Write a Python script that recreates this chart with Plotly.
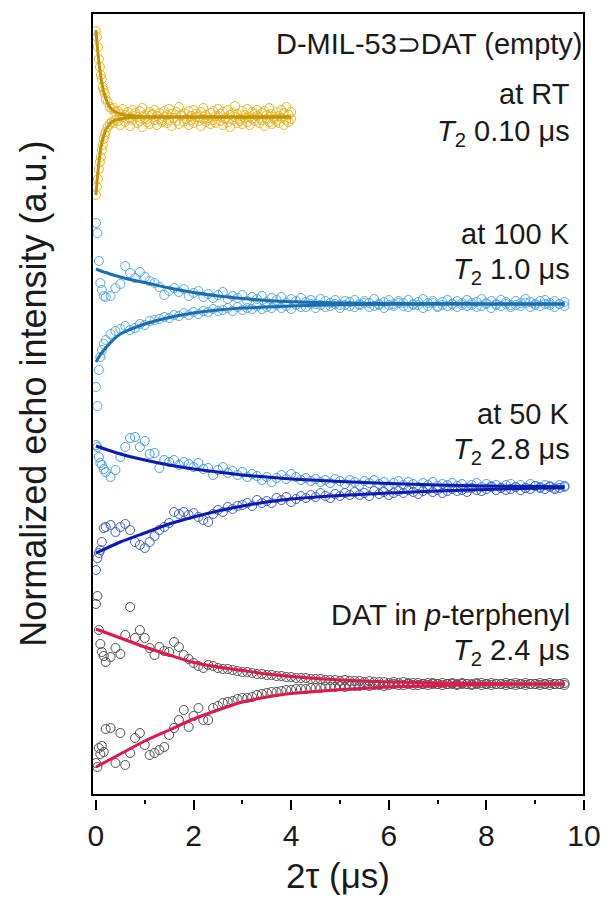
import plotly.graph_objects as go

# ---------------- data (2tau in us; signal in a.u. relative to each baseline) ----------------
x_rt = [0, 0.02, 0.04, 0.06, 0.08, 0.1, 0.12, 0.14, 0.16, 0.18, 0.2, 0.24, 0.28, 0.32, 0.36, 0.4,
        0.45, 0.5, 0.55, 0.6, 0.65, 0.7, 0.75, 0.8, 0.85, 0.9, 0.95, 1.0, 1.05, 1.1, 1.15, 1.2, 1.25, 1.3, 1.35, 1.4,
        1.45, 1.5, 1.55, 1.6, 1.65, 1.7, 1.75, 1.8, 1.85, 1.9, 1.95, 2.0, 2.05, 2.1, 2.15, 2.2, 2.25, 2.3, 2.35, 2.4,
        2.45, 2.5, 2.55, 2.6, 2.65, 2.7, 2.75, 2.8, 2.85, 2.9, 2.95, 3.0, 3.05, 3.1, 3.15, 3.2, 3.25, 3.3, 3.35, 3.4,
        3.45, 3.5, 3.55, 3.6, 3.65, 3.7, 3.75, 3.8, 3.85, 3.9, 3.95, 4.0]
rt_up = [0.86, 0.80, 0.70, 0.58, 0.50, 0.42, 0.38, 0.30, 0.27, 0.24, 0.18, 0.15, 0.10, 0.08, 0.09, 0.05,
         0.06, 0.03, 0.08, 0.02, 0.05, -0.01, 0.07, 0.04, 0.00, 0.06, 0.09, 0.02, -0.02, 0.05, 0.03, 0.07, 0.01, 0.04, -0.03, 0.06,
         0.02, 0.08, 0.03, -0.01, 0.05, 0.10, 0.02, 0.04, -0.02, 0.06, 0.01, 0.07, 0.03, 0.00, 0.05, 0.09, 0.02, -0.03, 0.04, 0.06,
         0.01, 0.08, 0.03, 0.05, -0.01, 0.07, 0.02, 0.04, 0.11, 0.03, -0.02, 0.06, 0.02, 0.08, 0.00, 0.05, 0.03, 0.07, -0.01, 0.04,
         0.06, 0.02, 0.09, 0.03, -0.02, 0.05, 0.01, 0.07, 0.04, 0.10, 0.02, 0.05]
rt_lo = [-0.78, -0.70, -0.62, -0.52, -0.45, -0.40, -0.33, -0.28, -0.22, -0.18, -0.15, -0.10, -0.07, -0.05, -0.06, -0.03,
         -0.04, -0.08, 0.00, -0.05, -0.02, -0.09, -0.03, 0.01, -0.06, -0.04, -0.10, -0.01, -0.05, -0.07, 0.02, -0.03, -0.08, -0.02, -0.05, 0.00,
         -0.06, -0.03, -0.09, -0.01, -0.04, -0.07, 0.01, -0.05, -0.02, -0.08, -0.03, -0.06, 0.00, -0.04, -0.09, -0.02, -0.05, -0.01, -0.07, -0.03,
         -0.06, 0.01, -0.04, -0.08, -0.02, -0.05, -0.10, -0.03, 0.00, -0.06, -0.04, -0.07, -0.01, -0.05, -0.08, -0.02, -0.04, 0.01, -0.06, -0.03,
         -0.09, -0.02, -0.05, -0.07, 0.00, -0.04, -0.06, -0.01, -0.08, -0.03, -0.05, -0.02]

x_grid = [0, 0.03, 0.06, 0.09, 0.12, 0.16, 0.2,
          0.3, 0.4, 0.5, 0.6, 0.7, 0.8, 0.9, 1.0, 1.1, 1.2,
          1.3, 1.4, 1.5, 1.6, 1.7, 1.8, 1.9, 2.0, 2.1, 2.2,
          2.3, 2.4, 2.5, 2.6, 2.7, 2.8, 2.9, 3.0, 3.1, 3.2,
          3.3, 3.4, 3.5, 3.6, 3.7, 3.8, 3.9, 4.0, 4.1, 4.2,
          4.3, 4.4, 4.5, 4.6, 4.7, 4.8, 4.9, 5.0, 5.1, 5.2,
          5.3, 5.4, 5.5, 5.6, 5.7, 5.8, 5.9, 6.0, 6.1, 6.2,
          6.3, 6.4, 6.5, 6.6, 6.7, 6.8, 6.9, 7.0, 7.1, 7.2,
          7.3, 7.4, 7.5, 7.6, 7.7, 7.8, 7.9, 8.0, 8.1, 8.2,
          8.3, 8.4, 8.5, 8.6, 8.7, 8.8, 8.9, 9.0, 9.1, 9.2,
          9.3, 9.4, 9.5, 9.6]

k100_up = [0.81, 0.71, 0.43, 0.21, 0.14, 0.08, 0.07,
           0.08, 0.16, 0.20, 0.38, 0.31, 0.26, 0.32, 0.27, 0.23, 0.21,
           0.17, 0.09, 0.13, 0.16, 0.12, 0.15, 0.08, 0.11, 0.13, 0.07,
           0.10, 0.06, 0.09, 0.12, 0.05, 0.08, 0.06, 0.09, 0.03, 0.07,
           0.05, 0.08, 0.02, 0.06, 0.04, 0.07, 0.01, 0.05, 0.03, 0.06,
           0.02, 0.04, 0.00, 0.05, 0.03, 0.01, 0.04, -0.01, 0.03, 0.02,
           0.04, 0.00, 0.03, 0.01, 0.05, -0.01, 0.02, 0.04, 0.00, 0.03,
           0.01, 0.04, -0.01, 0.02, 0.05, 0.01, 0.03, -0.02, 0.02, 0.04,
           0.00, 0.03, 0.01, 0.04, -0.01, 0.02, 0.05, 0.01, 0.03, 0.00,
           0.04, 0.02, -0.01, 0.03, 0.01, 0.05, 0.02, 0.00, 0.03, 0.04,
           0.01, 0.03, 0.00, 0.02]
k100_lo = [-0.83, -1.02, -0.66, -0.53, -0.46, -0.40, -0.36,
           -0.30, -0.27, -0.25, -0.22, -0.26, -0.24, -0.20, -0.21, -0.17, -0.16,
           -0.15, -0.13, -0.14, -0.11, -0.12, -0.09, -0.11, -0.08, -0.10, -0.07,
           -0.08, -0.05, -0.07, -0.06, -0.04, -0.07, -0.03, -0.06, -0.04, -0.05,
           -0.02, -0.05, -0.03, -0.04, -0.01, -0.04, -0.02, -0.05, -0.01, -0.03,
           -0.03, 0.00, -0.04, -0.01, -0.03, -0.02, 0.00, -0.04, -0.01, -0.02,
           -0.03, -0.01, 0.01, -0.03, -0.02, 0.00, -0.04, -0.01, -0.02, 0.01,
           -0.02, -0.03, 0.00, -0.01, -0.04, -0.02, 0.01, -0.03, -0.01, -0.02,
           0.00, -0.03, -0.01, -0.02, 0.01, -0.03, -0.02, 0.00, -0.04, -0.01,
           -0.02, 0.00, -0.03, -0.01, -0.02, 0.01, -0.03, -0.01, -0.02, 0.00,
           -0.01, -0.03, 0.00, -0.02]

k50_up = [0.42, 0.40, 0.30, 0.24, 0.22, 0.18, 0.15,
          0.10, 0.17, 0.30, 0.40, 0.49, 0.50, 0.40, 0.46, 0.33, 0.34,
          0.19, 0.27, 0.25, 0.27, 0.22, 0.25, 0.23, 0.20, 0.24, 0.18,
          0.19, 0.12, 0.17, 0.20, 0.14, 0.16, 0.12, 0.15, 0.10, 0.13,
          0.11, 0.07, 0.10, 0.05, 0.09, 0.12, 0.08, 0.13, 0.10, 0.07,
          0.09, 0.06, 0.08, 0.05, 0.07, 0.04, 0.08, 0.06, 0.03, 0.07,
          0.05, 0.02, 0.06, 0.04, 0.07, 0.03, 0.05, 0.01, 0.04, 0.06,
          0.02, 0.05, 0.03, 0.00, 0.04, 0.02, 0.05, 0.01, 0.03, 0.02,
          0.04, 0.01, 0.03, -0.01, 0.02, 0.04, 0.00, 0.03, 0.01, 0.02,
          -0.01, 0.02, 0.03, 0.00, 0.02, -0.01, 0.03, 0.01, 0.00, 0.02,
          0.01, -0.01, 0.02, 0.00]
k50_lo = [-0.83, -0.71, -0.66, -0.63, -0.55, -0.41, -0.40,
          -0.38, -0.45, -0.40, -0.37, -0.43, -0.55, -0.58, -0.61, -0.55, -0.49,
          -0.43, -0.40, -0.36, -0.25, -0.27, -0.25, -0.28, -0.26, -0.30, -0.33,
          -0.35, -0.27, -0.23, -0.25, -0.20, -0.22, -0.19, -0.18, -0.16, -0.19,
          -0.13, -0.16, -0.14, -0.16, -0.11, -0.13, -0.10, -0.15, -0.12, -0.09,
          -0.11, -0.08, -0.10, -0.06, -0.09, -0.11, -0.07, -0.09, -0.06, -0.08,
          -0.05, -0.08, -0.06, -0.09, -0.04, -0.07, -0.05, -0.08, -0.06, -0.04,
          -0.06, -0.03, -0.05, -0.07, -0.04, -0.02, -0.05, -0.03, -0.06, -0.04,
          -0.02, -0.04, -0.03, -0.05, -0.01, -0.03, -0.04, -0.02, 0.00, -0.03,
          -0.01, -0.03, -0.02, 0.00, -0.03, -0.01, -0.02, 0.01, -0.01, -0.02,
          0.00, -0.02, -0.01, 0.01]

pt_up = [0.80, 0.88, 0.54, 0.40, 0.32, 0.28, 0.22,
         0.27, 0.36, 0.30, 0.49, 0.77, 0.46, 0.54, 0.46, 0.36, 0.29,
         0.37, 0.33, 0.32, 0.42, 0.37, 0.29, 0.25, 0.21, 0.18, 0.16,
         0.19, 0.18, 0.16, 0.15, 0.15, 0.14, 0.13, 0.12, 0.12, 0.11,
         0.10, 0.10, 0.09, 0.09, 0.08, 0.08, 0.07, 0.07, 0.06, 0.06,
         0.06, 0.05, 0.05, 0.05, 0.04, 0.04, 0.04, 0.03, 0.04, 0.03,
         0.03, 0.03, 0.02, 0.03, 0.02, 0.02, 0.02, 0.01, 0.02, 0.01,
         0.02, 0.01, 0.01, 0.01, 0.00, 0.01, 0.01, 0.00, 0.01, 0.00,
         0.01, 0.00, 0.01, 0.00, 0.00, 0.01, -0.01, 0.00, 0.01, 0.00,
         0.00, 0.01, 0.00, -0.01, 0.00, 0.01, 0.00, 0.00, -0.01, 0.00,
         0.01, 0.00, 0.00, -0.01]
pt_lo = [-0.79, -0.83, -0.64, -0.70, -0.62, -0.68, -0.45,
         -0.44, -0.79, -0.49, -0.81, -0.69, -0.54, -0.49, -0.61, -0.71, -0.69,
         -0.66, -0.63, -0.51, -0.44, -0.36, -0.26, -0.43, -0.32, -0.24, -0.36,
         -0.36, -0.24, -0.22, -0.19, -0.18, -0.17, -0.15, -0.14, -0.14, -0.13,
         -0.11, -0.10, -0.09, -0.08, -0.08, -0.07, -0.06, -0.06, -0.05, -0.05,
         -0.05, -0.04, -0.04, -0.04, -0.03, -0.03, -0.03, -0.02, -0.03, -0.02,
         -0.02, -0.02, -0.01, -0.02, -0.01, -0.01, -0.02, -0.01, 0.00, -0.01,
         -0.01, 0.00, -0.01, -0.01, 0.00, -0.01, 0.00, 0.00, -0.01, 0.00,
         0.00, -0.01, 0.00, 0.00, -0.01, 0.00, 0.01, 0.00, -0.01, 0.00,
         0.00, -0.01, 0.00, 0.01, 0.00, -0.01, 0.00, 0.00, 0.01, 0.00,
         -0.01, 0.00, 0.00, 0.01]

# fitted decays
fit_rt_x = [0, 0.02, 0.04, 0.06, 0.08, 0.1, 0.12, 0.15, 0.2, 0.25, 0.3, 0.4, 0.5, 0.6, 0.8, 1.0, 1.5, 2.0, 3.0, 4.0]
fit_rt_up = [0.87, 0.75, 0.64, 0.55, 0.47, 0.40, 0.34, 0.27, 0.19, 0.13, 0.09, 0.05, 0.03, 0.02, 0.01, 0.0, 0.0, 0.0, 0.0, 0.0]
fit_rt_lo = [-0.78, -0.66, -0.55, -0.46, -0.38, -0.31, -0.26, -0.20, -0.13, -0.09, -0.06, -0.03, -0.02, -0.01, -0.005, 0.0, 0.0, 0.0, 0.0, 0.0]

fit_100_x = [0, 0.1, 0.2, 0.35, 0.5, 0.75, 1.0, 1.5, 2.0, 2.5, 3.0, 3.5, 4.0, 5.0, 6.0, 7.0, 8.0, 9.6]
fit_100_up = [0.35, 0.33, 0.315, 0.29, 0.27, 0.24, 0.215, 0.16, 0.115, 0.08, 0.055, 0.035, 0.022, 0.01, 0.005, 0.002, 0.001, 0.0]
fit_100_lo = [-0.58, -0.50, -0.44, -0.36, -0.30, -0.245, -0.20, -0.135, -0.09, -0.06, -0.04, -0.03, -0.02, -0.008, -0.003, -0.001, 0.0, 0.0]

fit_50_x = [0, 0.5, 1.0, 1.5, 2.0, 2.5, 3.0, 3.5, 4.0, 5.0, 6.0, 7.0, 8.0, 9.0, 9.6]
fit_50_up = [0.41, 0.33, 0.27, 0.22, 0.18, 0.15, 0.12, 0.10, 0.08, 0.055, 0.035, 0.02, 0.01, 0.005, 0.003]
fit_50_lo = [-0.66, -0.55, -0.46, -0.37, -0.30, -0.24, -0.19, -0.15, -0.12, -0.085, -0.06, -0.04, -0.025, -0.012, -0.008]

fit_pt_x = [0, 0.5, 1.0, 1.5, 2.0, 2.5, 3.0, 3.5, 4.0, 4.5, 5.0, 6.0, 7.0, 8.0, 9.6]
fit_pt_up = [0.55, 0.46, 0.37, 0.29, 0.215, 0.17, 0.135, 0.10, 0.075, 0.055, 0.04, 0.02, 0.01, 0.004, 0.0]
fit_pt_lo = [-0.83, -0.70, -0.57, -0.46, -0.35, -0.26, -0.18, -0.13, -0.095, -0.075, -0.055, -0.03, -0.015, -0.005, 0.0]

# vertical stacking offsets of the four data sets (a.u.)
offsets = {"rt": 6.78, "k100": 4.91, "k50": 3.08, "pt": 1.11}

for a, b in [(x_rt, rt_up), (x_rt, rt_lo), (x_grid, k100_up), (x_grid, k100_lo), (x_grid, k50_up),
             (x_grid, k50_lo), (x_grid, pt_up), (x_grid, pt_lo)]:
    assert len(a) == len(b), (len(a), len(b))

# ---------------- figure ----------------
W, H = 613, 898
ML, MR, MT, MB = 92, 23, 13, 99
GAP = 4  # gap between frame and x-axis ticks
PH = H - MT - MB


def px(xp):
    return (xp - ML) / (W - ML - MR)


def py(yp):
    return (H - MB - yp) / PH


fig = go.Figure()


def scatter(x, y, off, color):
    fig.add_trace(go.Scatter(x=x, y=[off + v for v in y], mode="markers",
                             marker=dict(symbol="circle-open", size=9, color=color, line=dict(width=1, color=color)),
                             showlegend=False, hoverinfo="skip"))


def fitline(x, y, off, color):
    fig.add_trace(go.Scatter(x=x, y=[off + v for v in y], mode="lines",
                             line=dict(color=color, width=3, shape="spline", smoothing=0.6),
                             showlegend=False, hoverinfo="skip"))


C_RT_M, C_RT_L = "#E8B62A", "#C39200"
C_100_M, C_100_L = "#52AAEC", "#1A6DB0"
C_50_MU, C_50_ML, C_50_L = "#429DEA", "#3F5ED0", "#0A1CB0"
C_PT_M, C_PT_L = "#505050", "#E2184C"

scatter(x_rt, rt_up, offsets["rt"], C_RT_M)
scatter(x_rt, rt_lo, offsets["rt"], C_RT_M)
scatter(x_grid, k100_up, offsets["k100"], C_100_M)
scatter(x_grid, k100_lo, offsets["k100"], C_100_M)
scatter(x_grid, k50_up, offsets["k50"], C_50_MU)
scatter(x_grid, k50_lo, offsets["k50"], C_50_ML)
scatter(x_grid, pt_up, offsets["pt"], C_PT_M)
scatter(x_grid, pt_lo, offsets["pt"], C_PT_M)

fitline(fit_rt_x, fit_rt_up, offsets["rt"], C_RT_L)
fitline(fit_rt_x, fit_rt_lo, offsets["rt"], C_RT_L)
fitline(fit_100_x, fit_100_up, offsets["k100"], C_100_L)
fitline(fit_100_x, fit_100_lo, offsets["k100"], C_100_L)
fitline(fit_50_x, fit_50_up, offsets["k50"], C_50_L)
fitline(fit_50_x, fit_50_lo, offsets["k50"], C_50_L)
fitline(fit_pt_x, fit_pt_up, offsets["pt"], C_PT_L)
fitline(fit_pt_x, fit_pt_lo, offsets["pt"], C_PT_L)

FONT = "Liberation Sans, Arial, Helvetica, sans-serif"

fig.update_layout(
    width=W, height=H,
    margin=dict(l=ML, r=MR, t=MT, b=MB, pad=0),
    paper_bgcolor="white", plot_bgcolor="white",
    font=dict(family=FONT, color="#1a1a1a"),
    xaxis=dict(range=[-0.081, 10], anchor="free", position=0, showline=False, showgrid=False, zeroline=False,
               ticks="outside", ticklen=10, tickwidth=2, tickcolor="black",
               tickvals=[0, 2, 4, 6, 8, 10], ticktext=["0", "2", "4", "6", "8", "10"],
               tickfont=dict(size=30, family=FONT, color="#1a1a1a"),
               minor=dict(tickvals=[1, 3, 5, 7, 9], ticks="outside", ticklen=4, tickwidth=2, tickcolor="black")),
    yaxis=dict(range=[0, 7.82], domain=[GAP / PH, 1], visible=False, showgrid=False, zeroline=False),
)

fig.add_shape(type="rect", xref="x domain", yref="y domain", x0=0, x1=1, y0=0, y1=1,
              line=dict(color="black", width=2), layer="above")


def label(text, xr, yc, size=29, anchor="right"):
    fig.add_annotation(text=text, x=px(xr), y=py(yc), xref="paper", yref="paper",
                       xanchor=anchor, yanchor="middle", showarrow=False, borderpad=0,
                       font=dict(size=size, family=FONT, color="#1a1a1a"), align="right")


label("D-MIL-53⊃DAT (empty)", 590, 44)
label("at RT", 577, 94)
label("<i>T</i><sub>2</sub> 0.10 μs", 577, 133)
label("at 100 K", 577, 234)
label("<i>T</i><sub>2</sub> 1.0 μs", 577, 271)
label("at 50 K", 577, 414)
label("<i>T</i><sub>2</sub> 2.8 μs", 577, 451)
label("DAT in <i>p</i>-terphenyl", 577, 615)
label("<i>T</i><sub>2</sub> 2.4 μs", 577, 652)

fig.add_annotation(text="Normalized echo intensity (a.u.)", x=px(32), y=py(394), xref="paper", yref="paper",
                   xanchor="center", yanchor="middle", textangle=-90, showarrow=False,
                   font=dict(size=36, family=FONT, color="#1a1a1a"))
fig.add_annotation(text="2τ (μs)", x=px(341), y=py(875), xref="paper", yref="paper",
                   xanchor="center", yanchor="middle", showarrow=False,
                   font=dict(size=35, family=FONT, color="#1a1a1a"))

fig.write_html("out.html")
